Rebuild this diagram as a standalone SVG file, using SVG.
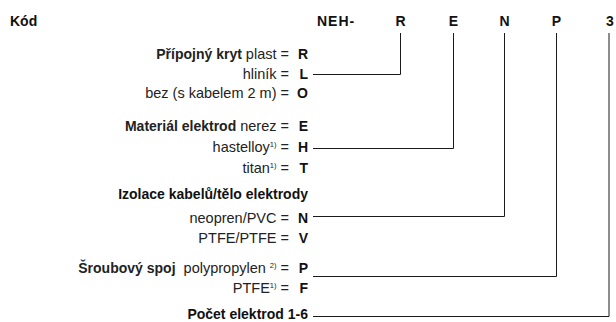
<svg xmlns="http://www.w3.org/2000/svg" width="616" height="322" viewBox="0 0 616 322">
<style>
text{font-family:"Liberation Sans",Arial,Helvetica,sans-serif;fill:#111}
.b{font-weight:bold;font-size:14px}
.r{font-size:14.5px;fill:#222}
.e{text-anchor:end}
.m{text-anchor:middle}
.s{font-size:7.5px}
.c{fill:none;stroke:#1a1a1a;stroke-width:1}
</style>
<rect width="616" height="322" fill="#fff"/>
<g id="header">
<text class="b" x="10" y="26">Kód</text>
<text class="b" x="317" y="26" letter-spacing="1">NEH-</text>
<text class="b m" x="400.5" y="26">R</text>
<text class="b m" x="453.5" y="26">E</text>
<text class="b m" x="504.5" y="26">N</text>
<text class="b m" x="556.5" y="26">P</text>
<text class="b m" x="610" y="26">3</text>
</g>
<g id="kryt">
<text class="r e" x="289" y="59"><tspan class="b">Přípojný kryt</tspan> plast =</text>
<text class="b e" x="308" y="59">R</text>
<text class="r e" x="289" y="79">hliník =</text>
<text class="b e" x="308" y="79">L</text>
<text class="r e" x="289" y="98">bez (s kabelem 2 m) =</text>
<text class="b e" x="308" y="98">O</text>
</g>
<g id="material">
<text class="r e" x="289" y="131"><tspan class="b">Materiál elektrod</tspan> nerez =</text>
<text class="b e" x="308" y="131">E</text>
<text class="r e" x="289" y="152">hastelloy<tspan class="s" dy="-5">1)</tspan><tspan dy="5"> =</tspan></text>
<text class="b e" x="308" y="152">H</text>
<text class="r e" x="289" y="173">titan<tspan class="s" dy="-5">1)</tspan><tspan dy="5"> =</tspan></text>
<text class="b e" x="308" y="173">T</text>
</g>
<g id="izolace">
<text class="b e" x="308" y="199">Izolace kabelů/tělo elektrody</text>
<text class="r e" x="289" y="223">neopren/PVC =</text>
<text class="b e" x="308" y="223">N</text>
<text class="r e" x="289" y="243">PTFE/PTFE =</text>
<text class="b e" x="308" y="243">V</text>
</g>
<g id="spoj">
<text class="r e" x="289" y="273" xml:space="preserve"><tspan class="b">Šroubový spoj</tspan>  polypropylen <tspan class="s" dy="-5">2)</tspan><tspan dy="5"> =</tspan></text>
<text class="b e" x="308" y="273">P</text>
<text class="r e" x="289" y="293">PTFE<tspan class="s" dy="-5">1)</tspan><tspan dy="5"> =</tspan></text>
<text class="b e" x="308" y="293">F</text>
</g>
<g id="pocet">
<text class="b e" x="308" y="319">Počet elektrod 1-6</text>
</g>
<g id="connectors">
<path class="c" d="M313,74.5H400.5V33"/>
<path class="c" d="M313,148.5H453.5V33"/>
<path class="c" d="M313,216.5H504.5V33"/>
<path class="c" d="M313,276.5H556.5V33"/>
<path class="c" d="M313,316.5H609V33"/>
</g>
</svg>
